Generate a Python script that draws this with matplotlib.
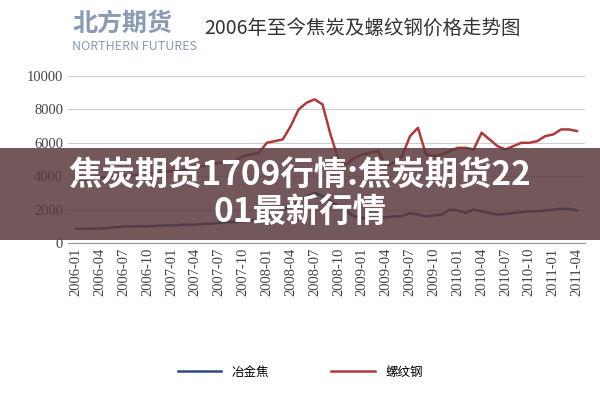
import matplotlib.pyplot as plt
from matplotlib.patches import Rectangle
import pandas as pd

plt.rcParams['font.family'] = ['Noto Sans CJK SC', 'DejaVu Sans']

months = pd.date_range('2006-01', '2011-04', freq='MS').strftime('%Y-%m').tolist()

# 螺纹钢
rebar = [3800, 3800, 3850, 3900, 3950, 4000, 4000, 4050, 4100, 4150, 4200, 4250,
         4300, 4350, 4400, 4500, 4600, 4700, 4800, 4800, 4900, 5200, 5300, 5400,
         6000, 6100, 6200, 7000, 8000, 8400, 8600, 8300, 6500, 5000, 4700, 5100,
         5300, 5400, 5500, 4600, 4800, 5200, 6400, 6900, 5300, 5200, 5300, 5500,
         5700, 5700, 5600, 6600, 6200, 5800, 5600, 5800, 6000, 6000, 6100, 6400,
         6500, 6800, 6800, 6700]
# 冶金焦
coke = [850, 850, 850, 870, 900, 950, 980, 1000, 1000, 1000, 1020, 1050,
        1050, 1080, 1100, 1100, 1150, 1150, 1200, 1250, 1250, 1300, 1350, 1400,
        1500, 1800, 2000, 2200, 2500, 2800, 3000, 2800, 2500, 2200, 1900, 1600,
        1500, 1500, 1500, 1550, 1600, 1600, 1800, 1700, 1600, 1650, 1700, 2000,
        1950, 1800, 2000, 1900, 1800, 1700, 1750, 1800, 1850, 1900, 1900, 1950,
        2000, 2050, 2050, 1950]

fig = plt.figure(figsize=(6, 4), dpi=100)
fig.patch.set_facecolor('white')
ax = fig.add_axes([68/600, 157/400, 517/600, 167/400])
x = range(len(months))
ax.plot(x, coke, color='#2b4a7a', lw=1.8, label='冶金焦')
ax.plot(x, rebar, color='#b03a3a', lw=1.8, label='螺纹钢')
ax.set_ylim(0, 10000)
ax.set_yticks(range(0, 10001, 2000))
ax.set_xlim(-1, len(months))
ax.set_xticks(list(x)[::3])
ax.set_xticklabels(months[::3], rotation=90, fontsize=10.5, family='Liberation Serif', color='#444')
ax.tick_params(axis='y', labelsize=10.5, colors='#444', length=0)
ax.tick_params(axis='x', length=0)
for lbl in ax.get_yticklabels():
    lbl.set_family('Liberation Serif')
ax.grid(axis='y', color='#cccccc', lw=0.8)
for s in ['top', 'right', 'left']:
    ax.spines[s].set_visible(False)
ax.spines['bottom'].set_color('#999')

fig.legend(loc='center', bbox_to_anchor=(0.5, 0.07), ncol=2, frameon=False,
           fontsize=9, handlelength=3.5, columnspacing=5)

fig.text(0.12, 0.94, '北方期货', fontsize=18, color='#8a9bb5', weight='bold', va='center')
fig.text(0.12, 0.885, 'NORTHERN FUTURES', fontsize=9, color='#8a9bb5', va='center')
fig.text(0.34, 0.93, '2006年至今焦炭及螺纹钢价格走势图', fontsize=14, color='#333', va='center')

fig.patches.append(Rectangle((0, 0.4), 1, 0.23, transform=fig.transFigure,
                             facecolor='#5a3a3e', alpha=0.85, zorder=5))
fig.text(0.5, 0.515, '焦炭期货1709行情:焦炭期货22\n01最新行情', fontsize=24, color='white',
         weight='bold', ha='center', va='center', zorder=6, linespacing=1.15)

fig.savefig('out.png', dpi=100)
